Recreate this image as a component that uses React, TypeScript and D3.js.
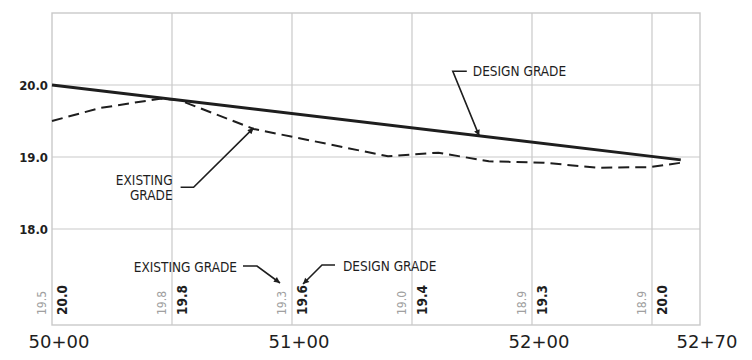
import React from 'react';
import * as d3 from 'd3';

const W = 752;
const H = 360;

// axis ticks / labels
const stationTicks = [5000, 5100, 5200, 5270];
const stationTickLabels = ['50+00', '51+00', '52+00', '52+70'];
const gridStations = [5050, 5100, 5150, 5200, 5250];
const elevGrid = [18, 19, 20];
const elevTickLabels = ['18.0', '19.0', '20.0'];

// series
const designStations = [5000, 5262];
const designElev = [20.0, 18.96];
const existingStations = [5000, 5020, 5045, 5053, 5084, 5140, 5161, 5182, 5205, 5228, 5249, 5262];
const existingElev = [19.5, 19.68, 19.81, 19.79, 19.39, 19.01, 19.06, 18.94, 18.92, 18.85, 18.86, 18.92];

// profile band labels
const labelStations = [5000, 5050, 5100, 5150, 5200, 5250];
const existingLabels = ['19.5', '19.8', '19.3', '19.0', '18.9', '18.9'];
const designLabels = ['20.0', '19.8', '19.6', '19.4', '19.3', '20.0'];

const FONT = '"DejaVu Sans Condensed", "DejaVu Sans", sans-serif';
const INK = '#1e1e1e';
const GRID = '#c9c9c9';

export default function App() {
  const x = d3.scaleLinear().domain([5000, 5270]).range([52, 700]);
  const y = d3.scaleLinear().domain([18, 21]).range([229, 13]);
  const frameTop = y(21);
  const frameBottom = 325;
  const frameLeft = x(5000);
  const frameRight = x(5270);

  const line = d3
    .line<[number, number]>()
    .x((d) => x(d[0]))
    .y((d) => y(d[1]));

  const designData: [number, number][] = designStations.map((s, i) => [s, designElev[i]]);
  const existingData: [number, number][] = existingStations.map((s, i) => [s, existingElev[i]]);

  const designAt = (s: number) =>
    d3.scaleLinear().domain(designStations).range(designElev)(s);
  const existingAt = (s: number) =>
    d3.scaleLinear().domain(existingStations).range(existingElev)(s);

  // annotation anchors
  const dgTip = [x(5178), y(designAt(5178))];
  const dgKnee = [x(5167), y(20.19)];
  const egTip = [x(5084), y(existingAt(5084)) - 1];
  const egKnee = [x(5059), y(18.58)];
  const x51 = x(5100);

  const textStyle: React.CSSProperties = {
    fontFamily: FONT,
    fontSize: 13.5,
    fill: INK,
  };

  return (
    <svg
      width={W}
      height={H}
      viewBox={`0 0 ${W} ${H}`}
      style={{ position: 'absolute', left: 0, top: 0, background: '#fff' }}
    >
      <defs>
        <marker
          id="arrow"
          viewBox="0 0 10 10"
          refX="10"
          refY="5"
          markerWidth="9"
          markerHeight="6"
          markerUnits="userSpaceOnUse"
          orient="auto"
        >
          <path d="M0,0 L10,5 L0,10 z" fill={INK} />
        </marker>
      </defs>
      <rect width={W} height={H} fill="#fff" />

      {/* grid */}
      {gridStations.map((s) => (
        <line key={'v' + s} x1={x(s)} x2={x(s)} y1={frameTop} y2={frameBottom} stroke={GRID} strokeWidth={1.2} />
      ))}
      {elevGrid.map((e) => (
        <line key={'h' + e} x1={frameLeft} x2={frameRight} y1={y(e)} y2={y(e)} stroke={GRID} strokeWidth={1.2} />
      ))}
      <rect
        x={frameLeft}
        y={frameTop}
        width={frameRight - frameLeft}
        height={frameBottom - frameTop}
        fill="none"
        stroke={GRID}
        strokeWidth={1.4}
      />

      {/* y labels */}
      {elevGrid.map((e, i) => (
        <text
          key={'yl' + e}
          x={frameLeft - 4}
          y={y(e)}
          textAnchor="end"
          dominantBaseline="central"
          style={{ fontFamily: FONT, fontSize: 13, fontWeight: 'bold', fill: INK }}
        >
          {elevTickLabels[i]}
        </text>
      ))}

      {/* station labels */}
      {stationTicks.map((s, i) => (
        <text
          key={'xl' + s}
          x={x(s) + 7}
          y={348}
          textAnchor="middle"
          style={{ fontFamily: '"DejaVu Sans", sans-serif', fontSize: 18, fill: INK }}
        >
          {stationTickLabels[i]}
        </text>
      ))}

      {/* series */}
      <path d={line(existingData) || ''} fill="none" stroke={INK} strokeWidth={2} strokeDasharray="11 6" />
      <path d={line(designData) || ''} fill="none" stroke={INK} strokeWidth={3} />

      {/* band labels */}
      {labelStations.map((s, i) => (
        <g key={'bl' + s}>
          <text
            transform={`translate(${x(s) - 10},315) rotate(-90)`}
            dominantBaseline="central"
            style={{ fontFamily: FONT, fontSize: 12, fill: '#a0a0a0' }}
          >
            {existingLabels[i]}
          </text>
          <text
            transform={`translate(${x(s) + 10},315) rotate(-90)`}
            dominantBaseline="central"
            style={{ fontFamily: FONT, fontSize: 13.5, fontWeight: 'bold', fill: INK }}
          >
            {designLabels[i]}
          </text>
        </g>
      ))}

      {/* DESIGN GRADE leader (upper) */}
      <polyline
        points={`${dgKnee[0] + 14},${dgKnee[1]} ${dgKnee[0]},${dgKnee[1]} ${dgTip[0]},${dgTip[1]}`}
        fill="none"
        stroke={INK}
        strokeWidth={1.6}
        markerEnd="url(#arrow)"
      />
      <text x={dgKnee[0] + 20} y={dgKnee[1]} dominantBaseline="central" style={textStyle}>
        DESIGN GRADE
      </text>

      {/* EXISTING GRADE leader (upper) */}
      <polyline
        points={`${egKnee[0] - 13},${egKnee[1]} ${egKnee[0]},${egKnee[1]} ${egTip[0]},${egTip[1]}`}
        fill="none"
        stroke={INK}
        strokeWidth={1.6}
        markerEnd="url(#arrow)"
      />
      <text x={egKnee[0] - 21} y={egKnee[1] - 7} textAnchor="end" dominantBaseline="central" style={textStyle}>
        EXISTING
      </text>
      <text x={egKnee[0] - 21} y={egKnee[1] + 8} textAnchor="end" dominantBaseline="central" style={textStyle}>
        GRADE
      </text>

      {/* EXISTING GRADE leader (band) */}
      <polyline
        points={`${x51 - 49},266 ${x51 - 35},266 ${x51 - 12},283`}
        fill="none"
        stroke={INK}
        strokeWidth={1.6}
        markerEnd="url(#arrow)"
      />
      <text x={x51 - 55} y={267} textAnchor="end" dominantBaseline="central" style={textStyle}>
        EXISTING GRADE
      </text>

      {/* DESIGN GRADE leader (band) */}
      <polyline
        points={`${x51 + 43},265 ${x51 + 30},265 ${x51 + 11},284`}
        fill="none"
        stroke={INK}
        strokeWidth={1.6}
        markerEnd="url(#arrow)"
      />
      <text x={x51 + 51} y={266} dominantBaseline="central" style={textStyle}>
        DESIGN GRADE
      </text>
    </svg>
  );
}
